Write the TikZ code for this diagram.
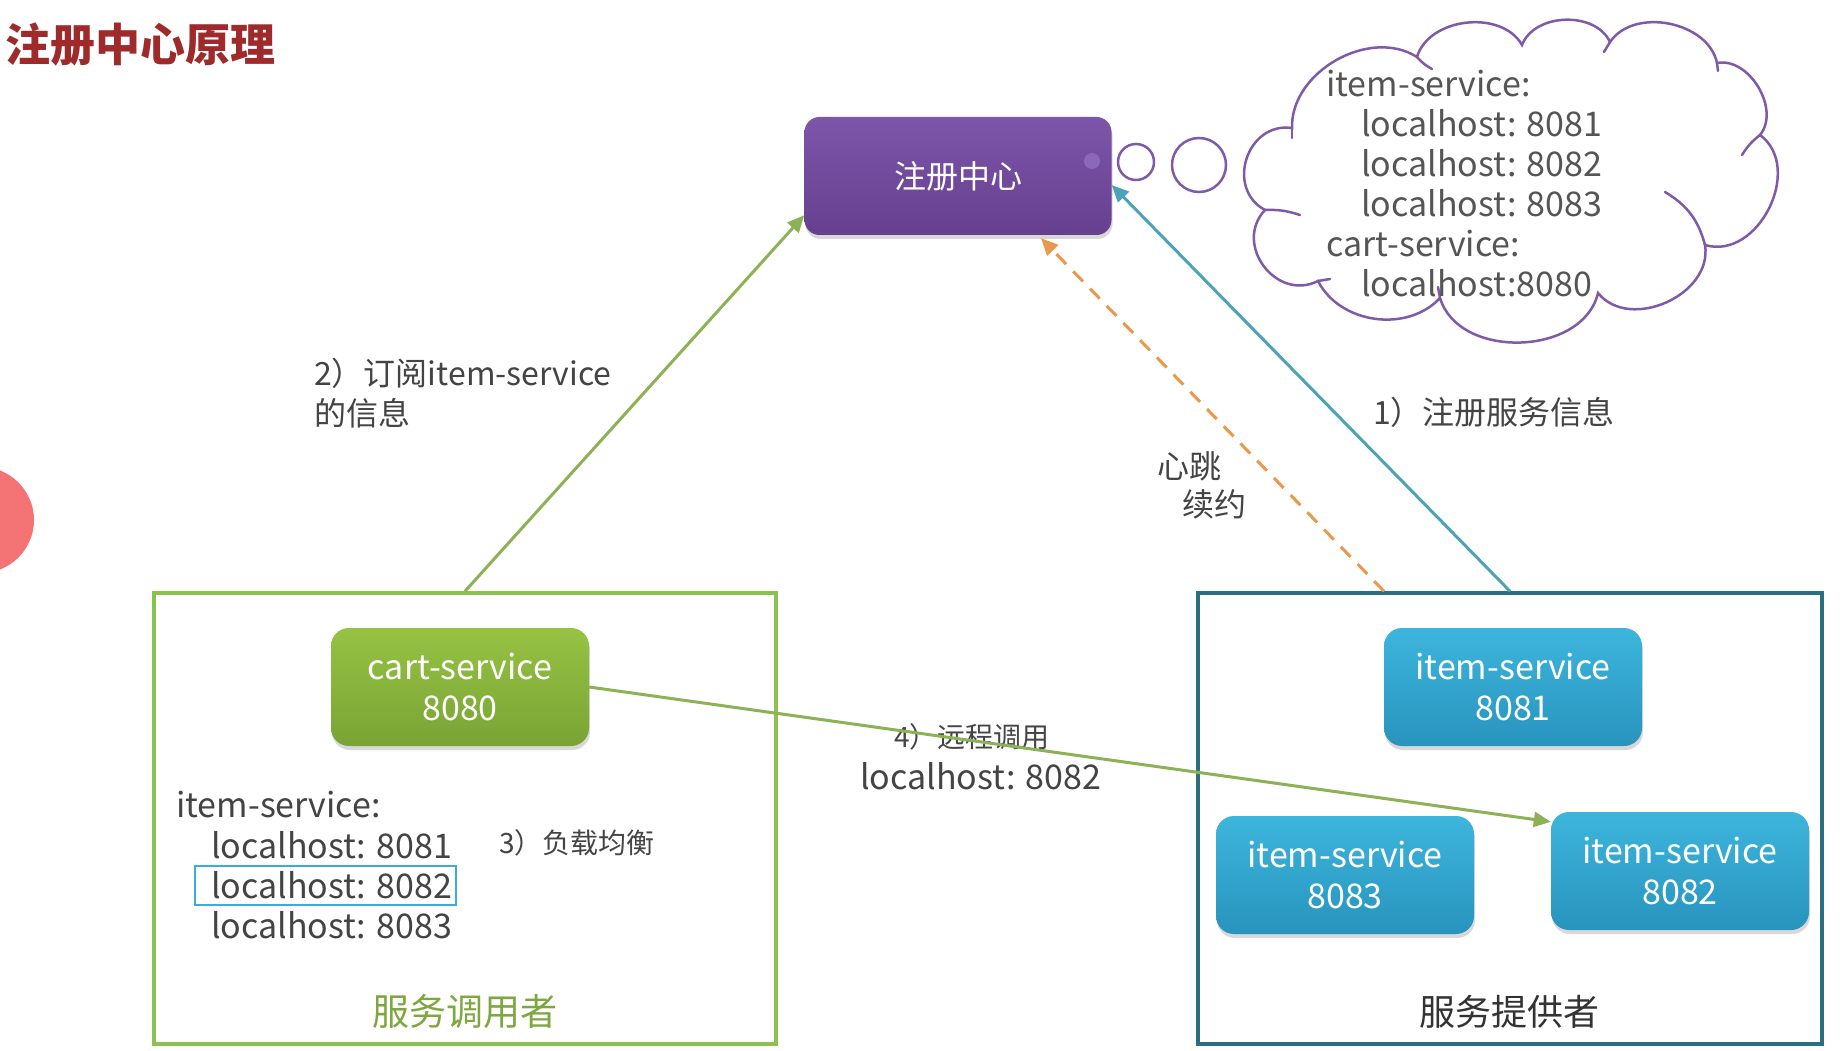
\documentclass[tikz,border=0pt]{standalone}
\usepackage{fontspec}
\setmainfont{Noto Sans CJK SC}
\usetikzlibrary{arrows.meta,shadows}
\definecolor{titlered}{HTML}{9E2A2B}
\definecolor{regtop}{HTML}{7D55AA}
\definecolor{regbot}{HTML}{66408F}
\definecolor{regdot}{HTML}{8C68B8}
\definecolor{cloudpurple}{HTML}{7E5AA8}
\definecolor{greentop}{HTML}{96C244}
\definecolor{greenbot}{HTML}{79A434}
\definecolor{bluetop}{HTML}{3DB5DC}
\definecolor{bluebot}{HTML}{2894BE}
\definecolor{framegreen}{HTML}{8CC152}
\definecolor{frameteal}{HTML}{2B6E82}
\definecolor{arrowgreen}{HTML}{8DB256}
\definecolor{arrowteal}{HTML}{4AA3B6}
\definecolor{arroworange}{HTML}{EA984C}
\definecolor{hlblue}{HTML}{3AAED8}
\definecolor{txtgray}{HTML}{444444}
\definecolor{cloudtxt}{HTML}{555555}
\definecolor{callergreen}{HTML}{7EA73F}
\definecolor{pinkdot}{HTML}{F47375}
\begin{document}
\begin{tikzpicture}[x=1pt,y=-1pt,
  shad/.style={drop shadow={opacity=0.3,shadow xshift=1pt,shadow yshift=-4pt}},
  regbox/.style={shad,rounded corners=15pt,top color=regtop,bottom color=regbot,
    minimum width=307pt,minimum height=118pt,text=white,inner sep=0,
    font=\fontsize{32}{38}\selectfont},
  svc/.style={shad,rounded corners=18pt,minimum width=258pt,minimum height=118pt,
    text=white,align=center,inner sep=0,font=\fontsize{34}{41}\selectfont},
  greensvc/.style={svc,top color=greentop,bottom color=greenbot},
  bluesvc/.style={svc,top color=bluetop,bottom color=bluebot},
  frame/.style={draw,line width=3.5pt,inner sep=0},
  listline/.style={anchor=west,inner sep=0,font=\fontsize{34}{40}\selectfont,text=txtgray},
  cloudline/.style={listline,text=cloudtxt},
  lbl/.style={anchor=west,inner sep=0,font=\fontsize{32}{38}\selectfont,text=txtgray},
  small/.style={lbl,font=\fontsize{28}{34}\selectfont},
  conn/.style={line width=3pt,-{Triangle[length=17pt,width=15pt]}},
  thought/.style={draw=cloudpurple,line width=2.5pt,circle,inner sep=0},
  cloudline2/.style={draw=cloudpurple,line width=2.5pt,line cap=round}
]
\useasboundingbox (0,0) rectangle (1840,1051);
\fill[white] (0,0) rectangle (1840,1051);
\fill[pinkdot] (-19,520) circle (53);

% title
\node[anchor=west,inner sep=0,text=titlered,font=\fontsize{45}{50}\selectfont\bfseries] (title) at (5,45) {注册中心原理};

% frames
\node[frame,draw=framegreen,minimum width=622pt,minimum height=451pt] (lbox) at (465,818.5) {};
\node[frame,draw=frameteal,minimum width=624pt,minimum height=451pt] (rbox) at (1510,818.5) {};

% registry
\node[regbox] (reg) at (958,176) {注册中心};
\node[circle,fill=regdot,minimum size=16pt,inner sep=0] (regdot) at (1092,161) {};
\node[thought,minimum size=36pt] (t1) at (1136,162) {};
\node[thought,minimum size=54pt] (t2) at (1199,165) {};

% cloud
\coordinate (p1) at (1292,128);
\coordinate (p2) at (1417,57);
\coordinate (p3) at (1522,45);
\coordinate (p4) at (1610,42);
\coordinate (p5) at (1717,63);
\coordinate (p6) at (1760,135);
\coordinate (p7) at (1705,245);
\coordinate (p8) at (1598,293);
\coordinate (p9) at (1440,298);
\coordinate (p10) at (1318,281);
\coordinate (p11) at (1265,210);
\draw[cloudline2]
  (p1) to[bend left=62] (p2)
  to[bend left=67] (p3)
  to[bend left=67] (p4)
  to[bend left=67] (p5)
  to[bend left=70] (p6)
  to[bend left=80,looseness=1.15] (p7)
  to[bend left=75,looseness=1.1] (p8)
  to[bend left=75,looseness=1.05] (p9)
  to[bend left=55] (p10)
  to[bend left=80,looseness=1.35] (p11)
  to[bend left=80,looseness=1.35] cycle;
\draw[cloudline2] (p2) to[bend right=10] (1432,69);
\draw[cloudline2] (p4) to (1604,52);
\draw[cloudline2] (p5) to (1718,71);
\draw[cloudline2] (p6) to[bend right=10] (1742,155);
\draw[cloudline2] (p7) to[bend right=22] (1665,192);
\draw[cloudline2] (p9) to (1438,287);
\draw[cloudline2] (p10) to (1330,279);
\draw[cloudline2] (p11) to[bend left=10] (1300,215);
\draw[cloudline2] (p1) to (1292,138);

\node[cloudline] (c1) at (1326,84) {item-service:};
\node[cloudline] (c2) at (1361,123) {localhost: 8081};
\node[cloudline] (c3) at (1361,163) {localhost: 8082};
\node[cloudline] (c4) at (1361,203) {localhost: 8083};
\node[cloudline] (c5) at (1326,244) {cart-service:};
\node[cloudline] (c6) at (1361,283) {localhost:8080};

% services
\node[greensvc] (cart) at (460,687) {cart-service\\8080};
\node[bluesvc] (item81) at (1513,687) {item-service\\8081};
\node[bluesvc] (item83) at (1345,875) {item-service\\8083};
\node[bluesvc] (item82) at (1680,871) {item-service\\8082};

% caller list
\node[listline] (l0) at (176,805) {item-service:};
\node[listline] (l1) at (211,845) {localhost: 8081};
\node[draw=hlblue,line width=2pt,minimum width=261pt,minimum height=39pt,inner sep=0] (hl) at (325.5,885.5) {};
\node[listline] (l2) at (211,885) {localhost: 8082};
\node[listline] (l3) at (211,925) {localhost: 8083};
\node[small] (lb3) at (499,843) {3）负载均衡};

\node[inner sep=0,text=callergreen,font=\fontsize{37}{42}\selectfont] (caller) at (465,1012) {服务调用者};
\node[inner sep=0,text=black!80,font=\fontsize{36}{42}\selectfont] (provider) at (1509,1012) {服务提供者};

% labels
\node[lbl] (lb2a) at (314,373) {2）订阅item-service};
\node[lbl] (lb2b) at (314,413) {的信息};
\node[lbl] (lb1) at (1373,412) {1）注册服务信息};
\node[lbl] (hb1) at (1157,466) {心跳};
\node[lbl] (hb2) at (1182,504) {续约};
\node[small] (lb4) at (894,737) {4）远程调用};
\node[listline] (lb4b) at (860,776) {localhost: 8082};

% connectors
\draw[conn,arrowgreen] (lbox.north) -- ([yshift=20pt]reg.south west);
\draw[conn,arrowteal] (rbox.north) -- ([yshift=-9pt]reg.east);
\draw[conn,arroworange,dash pattern=on 14pt off 10pt] ([xshift=-126pt]rbox.north) -- ([xshift=83pt,yshift=-3pt]reg.south);
\draw[conn,arrowgreen] (cart.east) -- ([yshift=-10pt]item82.north west);
\end{tikzpicture}
\end{document}
